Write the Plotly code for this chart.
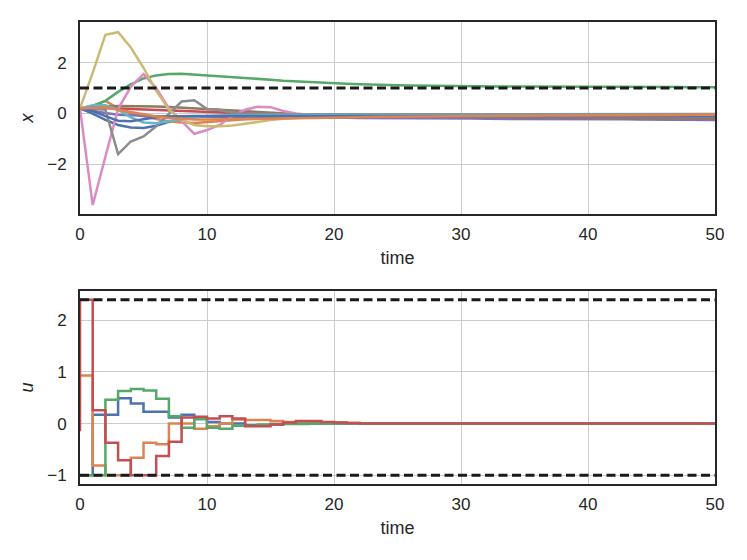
import plotly.graph_objects as go
from plotly.subplots import make_subplots

# time grid shared by both panels
time_steps = list(range(51))

# seaborn "deep" palette, cycled over the state trajectories
palette = ['#4C72B0', '#DD8452', '#55A868', '#C44E52', '#8172B3',
           '#937860', '#DA8BC3', '#8C8C8C', '#CCB974', '#64B5CD']

# state trajectories x(t), one list per state (t = 0..50)
x_blue = [0.2, 0.0, -0.25, -0.45, -0.55, -0.57, -0.48, -0.33, -0.22, -0.15,
          -0.12, -0.1, -0.09, -0.09, -0.09, -0.09, -0.09, -0.09, -0.1, -0.1,
          -0.1, -0.1, -0.1, -0.1, -0.1, -0.1, -0.11, -0.11, -0.11, -0.11,
          -0.11, -0.11, -0.11, -0.12, -0.12, -0.12, -0.12, -0.12, -0.12, -0.12,
          -0.12, -0.12, -0.12, -0.13, -0.13, -0.13, -0.13, -0.13, -0.13, -0.13,
          -0.13]
x_orange = [0.2, 0.3, 0.5, 0.2, 0.0, -0.12, -0.22, -0.3, -0.35, -0.37,
            -0.33, -0.3, -0.26, -0.23, -0.21, -0.19, -0.18, -0.17, -0.16, -0.15,
            -0.15, -0.14, -0.14, -0.13, -0.13, -0.12, -0.12, -0.12, -0.11, -0.11,
            -0.11, -0.1, -0.1, -0.1, -0.1, -0.1, -0.09, -0.09, -0.09, -0.09,
            -0.09, -0.09, -0.09, -0.08, -0.08, -0.08, -0.08, -0.08, -0.08, -0.08,
            -0.08]
x_green = [0.2, 0.3, 0.5, 0.85, 1.15, 1.38, 1.5, 1.55, 1.56, 1.53,
           1.48, 1.45, 1.42, 1.39, 1.36, 1.33, 1.29, 1.26, 1.23, 1.21,
           1.19, 1.17, 1.15, 1.13, 1.12, 1.11, 1.1, 1.09, 1.08, 1.08,
           1.07, 1.07, 1.07, 1.06, 1.06, 1.06, 1.06, 1.05, 1.05, 1.05,
           1.05, 1.05, 1.04, 1.04, 1.04, 1.04, 1.04, 1.04, 1.03, 1.03,
           1.03]
x_red = [0.2, 0.22, 0.22, 0.2, 0.18, 0.15, 0.13, 0.1, 0.08, 0.06,
         0.04, 0.02, 0.01, 0.0, -0.01, -0.02, -0.03, -0.03, -0.04, -0.04,
         -0.05, -0.05, -0.05, -0.06, -0.06, -0.06, -0.06, -0.07, -0.07, -0.07,
         -0.07, -0.07, -0.08, -0.08, -0.08, -0.08, -0.08, -0.08, -0.09, -0.09,
         -0.09, -0.09, -0.09, -0.09, -0.09, -0.1, -0.1, -0.1, -0.1, -0.1,
         -0.1]
x_purple = [0.2, 0.1, 0.02, -0.05, -0.08, -0.1, -0.11, -0.12, -0.12, -0.13,
            -0.13, -0.14, -0.14, -0.15, -0.15, -0.15, -0.16, -0.16, -0.16, -0.17,
            -0.17, -0.17, -0.18, -0.18, -0.18, -0.19, -0.19, -0.19, -0.2, -0.2,
            -0.2, -0.2, -0.21, -0.21, -0.21, -0.21, -0.22, -0.22, -0.22, -0.22,
            -0.23, -0.23, -0.23, -0.23, -0.24, -0.24, -0.24, -0.24, -0.25, -0.25,
            -0.25]
x_brown = [0.2, 0.25, 0.28, 0.3, 0.3, 0.3, 0.28, 0.26, 0.23, 0.2,
           0.17, 0.13, 0.1, 0.07, 0.04, 0.02, 0.0, -0.02, -0.03, -0.04,
           -0.05, -0.06, -0.07, -0.08, -0.09, -0.1, -0.1, -0.11, -0.11, -0.12,
           -0.12, -0.13, -0.13, -0.14, -0.14, -0.15, -0.15, -0.15, -0.16, -0.16,
           -0.17, -0.17, -0.17, -0.18, -0.18, -0.18, -0.19, -0.19, -0.19, -0.2,
           -0.2]
x_pink = [0.2, -3.6, -1.7, 0.18, 1.05, 1.55, 1.0, 0.2, -0.3, -0.8,
          -0.65, -0.45, -0.1, 0.15, 0.27, 0.25, 0.1, 0.0, -0.05, -0.06,
          -0.06, -0.07, -0.07, -0.07, -0.08, -0.08, -0.08, -0.08, -0.08, -0.09,
          -0.09, -0.09, -0.09, -0.09, -0.09, -0.09, -0.1, -0.1, -0.1, -0.1,
          -0.1, -0.1, -0.1, -0.1, -0.1, -0.1, -0.1, -0.1, -0.1, -0.1,
          -0.1]
x_gray = [0.2, 0.2, 0.15, -1.6, -1.1, -0.9, -0.5, 0.0, 0.47, 0.52,
          0.18, 0.15, 0.02, -0.02, -0.03, -0.03, -0.03, -0.03, -0.03, -0.03,
          -0.03, -0.03, -0.03, -0.03, -0.03, -0.02, -0.02, -0.02, -0.02, -0.02,
          -0.02, -0.02, -0.02, -0.02, -0.02, -0.02, -0.02, -0.02, -0.02, -0.02,
          -0.02, -0.02, -0.02, -0.02, -0.02, -0.02, -0.02, -0.02, -0.02, -0.02,
          -0.02]
x_olive = [0.2, 1.6, 3.1, 3.2, 2.6, 1.8, 0.9, 0.15, -0.25, -0.45,
           -0.5, -0.5, -0.47, -0.4, -0.32, -0.26, -0.21, -0.17, -0.14, -0.12,
           -0.1, -0.09, -0.09, -0.08, -0.08, -0.08, -0.08, -0.08, -0.08, -0.08,
           -0.08, -0.08, -0.08, -0.08, -0.08, -0.08, -0.08, -0.08, -0.08, -0.08,
           -0.08, -0.08, -0.08, -0.08, -0.08, -0.08, -0.08, -0.08, -0.08, -0.08,
           -0.08]
x_cyan = [0.2, 0.33, 0.33, 0.15, -0.15, -0.35, -0.38, -0.3, -0.2, -0.14,
          -0.1, -0.08, -0.07, -0.07, -0.06, -0.06, -0.06, -0.06, -0.06, -0.06,
          -0.06, -0.06, -0.06, -0.06, -0.06, -0.06, -0.06, -0.06, -0.06, -0.06,
          -0.06, -0.06, -0.06, -0.06, -0.06, -0.06, -0.06, -0.06, -0.06, -0.06,
          -0.06, -0.06, -0.06, -0.06, -0.06, -0.06, -0.06, -0.06, -0.06, -0.06,
          -0.06]
x_blue2 = [0.2, 0.1, -0.1, -0.28, -0.3, -0.22, -0.15, -0.12, -0.1, -0.1,
           -0.1, -0.1, -0.1, -0.1, -0.1, -0.1, -0.1, -0.1, -0.1, -0.1,
           -0.1, -0.1, -0.1, -0.1, -0.1, -0.1, -0.1, -0.1, -0.1, -0.1,
           -0.1, -0.1, -0.1, -0.1, -0.1, -0.1, -0.1, -0.1, -0.1, -0.1,
           -0.1, -0.1, -0.1, -0.1, -0.1, -0.1, -0.1, -0.1, -0.1, -0.1,
           -0.1]
x_orange2 = [0.2, 0.22, 0.25, 0.15, 0.05, -0.05, -0.12, -0.18, -0.22, -0.24,
             -0.24, -0.23, -0.22, -0.21, -0.2, -0.19, -0.18, -0.17, -0.16, -0.16,
             -0.15, -0.15, -0.14, -0.14, -0.13, -0.13, -0.12, -0.12, -0.11, -0.11,
             -0.1, -0.1, -0.1, -0.09, -0.09, -0.09, -0.08, -0.08, -0.08, -0.08,
             -0.07, -0.07, -0.07, -0.07, -0.06, -0.06, -0.06, -0.06, -0.05, -0.05,
             -0.05]

states = [x_blue, x_orange, x_green, x_red, x_purple, x_brown,
          x_pink, x_gray, x_olive, x_cyan, x_blue2, x_orange2]

# control inputs u(t), held constant over each step
u_blue = [-1.0, 0.17, 0.17, 0.49, 0.39, 0.23, 0.23, 0.12, 0.17, 0.09,
          0.03, 0.0, 0.0, -0.03, -0.03, -0.01, 0.0, 0.0, 0.0, 0.0,
          0.0, 0.0, 0.0, 0.0, 0.0, 0.0, 0.0, 0.0, 0.0, 0.0,
          0.0, 0.0, 0.0, 0.0, 0.0, 0.0, 0.0, 0.0, 0.0, 0.0,
          0.0, 0.0, 0.0, 0.0, 0.0, 0.0, 0.0, 0.0, 0.0, 0.0,
          0.0]
u_orange = [0.93, -0.81, -1.0, -1.0, -0.66, -0.37, -0.4, 0.0, 0.0, -0.1,
            -0.05, 0.0, 0.08, 0.07, 0.07, 0.05, 0.03, 0.02, 0.02, 0.02,
            0.02, 0.01, 0.0, 0.0, 0.0, 0.0, 0.0, 0.0, 0.0, 0.0,
            0.0, 0.0, 0.0, 0.0, 0.0, 0.0, 0.0, 0.0, 0.0, 0.0,
            0.0, 0.0, 0.0, 0.0, 0.0, 0.0, 0.0, 0.0, 0.0, 0.0,
            0.0]
u_green = [-1.0, -1.0, 0.46, 0.63, 0.67, 0.64, 0.48, 0.14, -0.08, 0.09,
           -0.08, -0.1, -0.04, -0.04, -0.02, -0.02, -0.01, -0.01, 0.0, 0.0,
           0.0, 0.0, 0.0, 0.0, 0.0, 0.0, 0.0, 0.0, 0.0, 0.0,
           0.0, 0.0, 0.0, 0.0, 0.0, 0.0, 0.0, 0.0, 0.0, 0.0,
           0.0, 0.0, 0.0, 0.0, 0.0, 0.0, 0.0, 0.0, 0.0, 0.0,
           0.0]
u_red = [2.4, 0.26, -0.37, -0.71, -1.0, -1.0, -0.63, -0.35, 0.12, 0.13,
         0.1, 0.14, 0.1, -0.05, -0.05, -0.02, 0.02, 0.05, 0.05, 0.03,
         0.02, 0.01, 0.0, 0.0, 0.0, 0.0, 0.0, 0.0, 0.0, 0.0,
         0.0, 0.0, 0.0, 0.0, 0.0, 0.0, 0.0, 0.0, 0.0, 0.0,
         0.0, 0.0, 0.0, 0.0, 0.0, 0.0, 0.0, 0.0, 0.0, 0.0,
         0.0]
inputs = [u_blue, u_orange, u_green, u_red]
# value each input holds just before t = 0 (start of the first step)
u_start = [-1.0, 0.93, -1.0, -0.15]

# constraint levels drawn as dashed lines
x_limit = [1.0]
u_limits = [2.4, -1.0]
t_span = [0, 50]

text_color = '#262626'
font_family = 'Liberation Sans, Arial, sans-serif'
dash_style = dict(color='#1a1a1a', width=3, dash='9px,4.5px')

fig = make_subplots(rows=2, cols=1, vertical_spacing=0.165)

for i, vals in enumerate(states):
    fig.add_trace(go.Scatter(x=time_steps[:len(vals)], y=vals, mode='lines',
                             line=dict(color=palette[i % len(palette)], width=2.5),
                             showlegend=False), row=1, col=1)
for lim in x_limit:
    fig.add_trace(go.Scatter(x=t_span, y=[lim, lim], mode='lines', line=dash_style,
                             showlegend=False), row=1, col=1)

for i, vals in enumerate(inputs):
    fig.add_trace(go.Scatter(x=[0] + time_steps[:len(vals)], y=[u_start[i]] + vals,
                             mode='lines',
                             line=dict(color=palette[i], width=2.5, shape='hv'),
                             showlegend=False), row=2, col=1)
for lim in u_limits:
    fig.add_trace(go.Scatter(x=t_span, y=[lim, lim], mode='lines', line=dash_style,
                             showlegend=False), row=2, col=1)

tick_font = dict(size=17, color=text_color, family=font_family)
title_font = dict(size=18, color=text_color, family=font_family)
axis_common = dict(showline=True, mirror=True, linecolor=text_color, linewidth=1.8,
                   showgrid=True, gridcolor='#cccccc', gridwidth=1.2, zeroline=False,
                   ticks='outside', tickcolor='rgba(0,0,0,0)', tickfont=tick_font)

for r in (1, 2):
    fig.update_xaxes(range=[0, 50], dtick=10, tickformat='d', ticklen=4,
                     title=dict(text='time', standoff=8, font=title_font),
                     row=r, col=1, **axis_common)

fig.update_yaxes(range=[-3.96, 3.6], tickvals=[-2, 0, 2],
                 ticktext=['\u22122', '0', '2'], ticklen=8,
                 title=dict(text='<i>x</i>', standoff=9, font=title_font),
                 row=1, col=1, **axis_common)
fig.update_yaxes(range=[-1.17, 2.57], tickvals=[-1, 0, 1, 2],
                 ticktext=['\u22121', '0', '1', '2'], ticklen=8,
                 title=dict(text='<i>u</i>', standoff=9, font=title_font),
                 row=2, col=1, **axis_common)

# page body adds an 8px offset, so the margins are trimmed by that amount
fig.update_layout(width=747, height=560, plot_bgcolor='white', paper_bgcolor='white',
                  margin=dict(l=72, r=40, t=12, b=84),
                  font=dict(family=font_family, color=text_color))
fig.update_layout(yaxis=dict(domain=[0.584, 1.0]), yaxis2=dict(domain=[0.0, 0.418]))

fig.write_html("out.html")
